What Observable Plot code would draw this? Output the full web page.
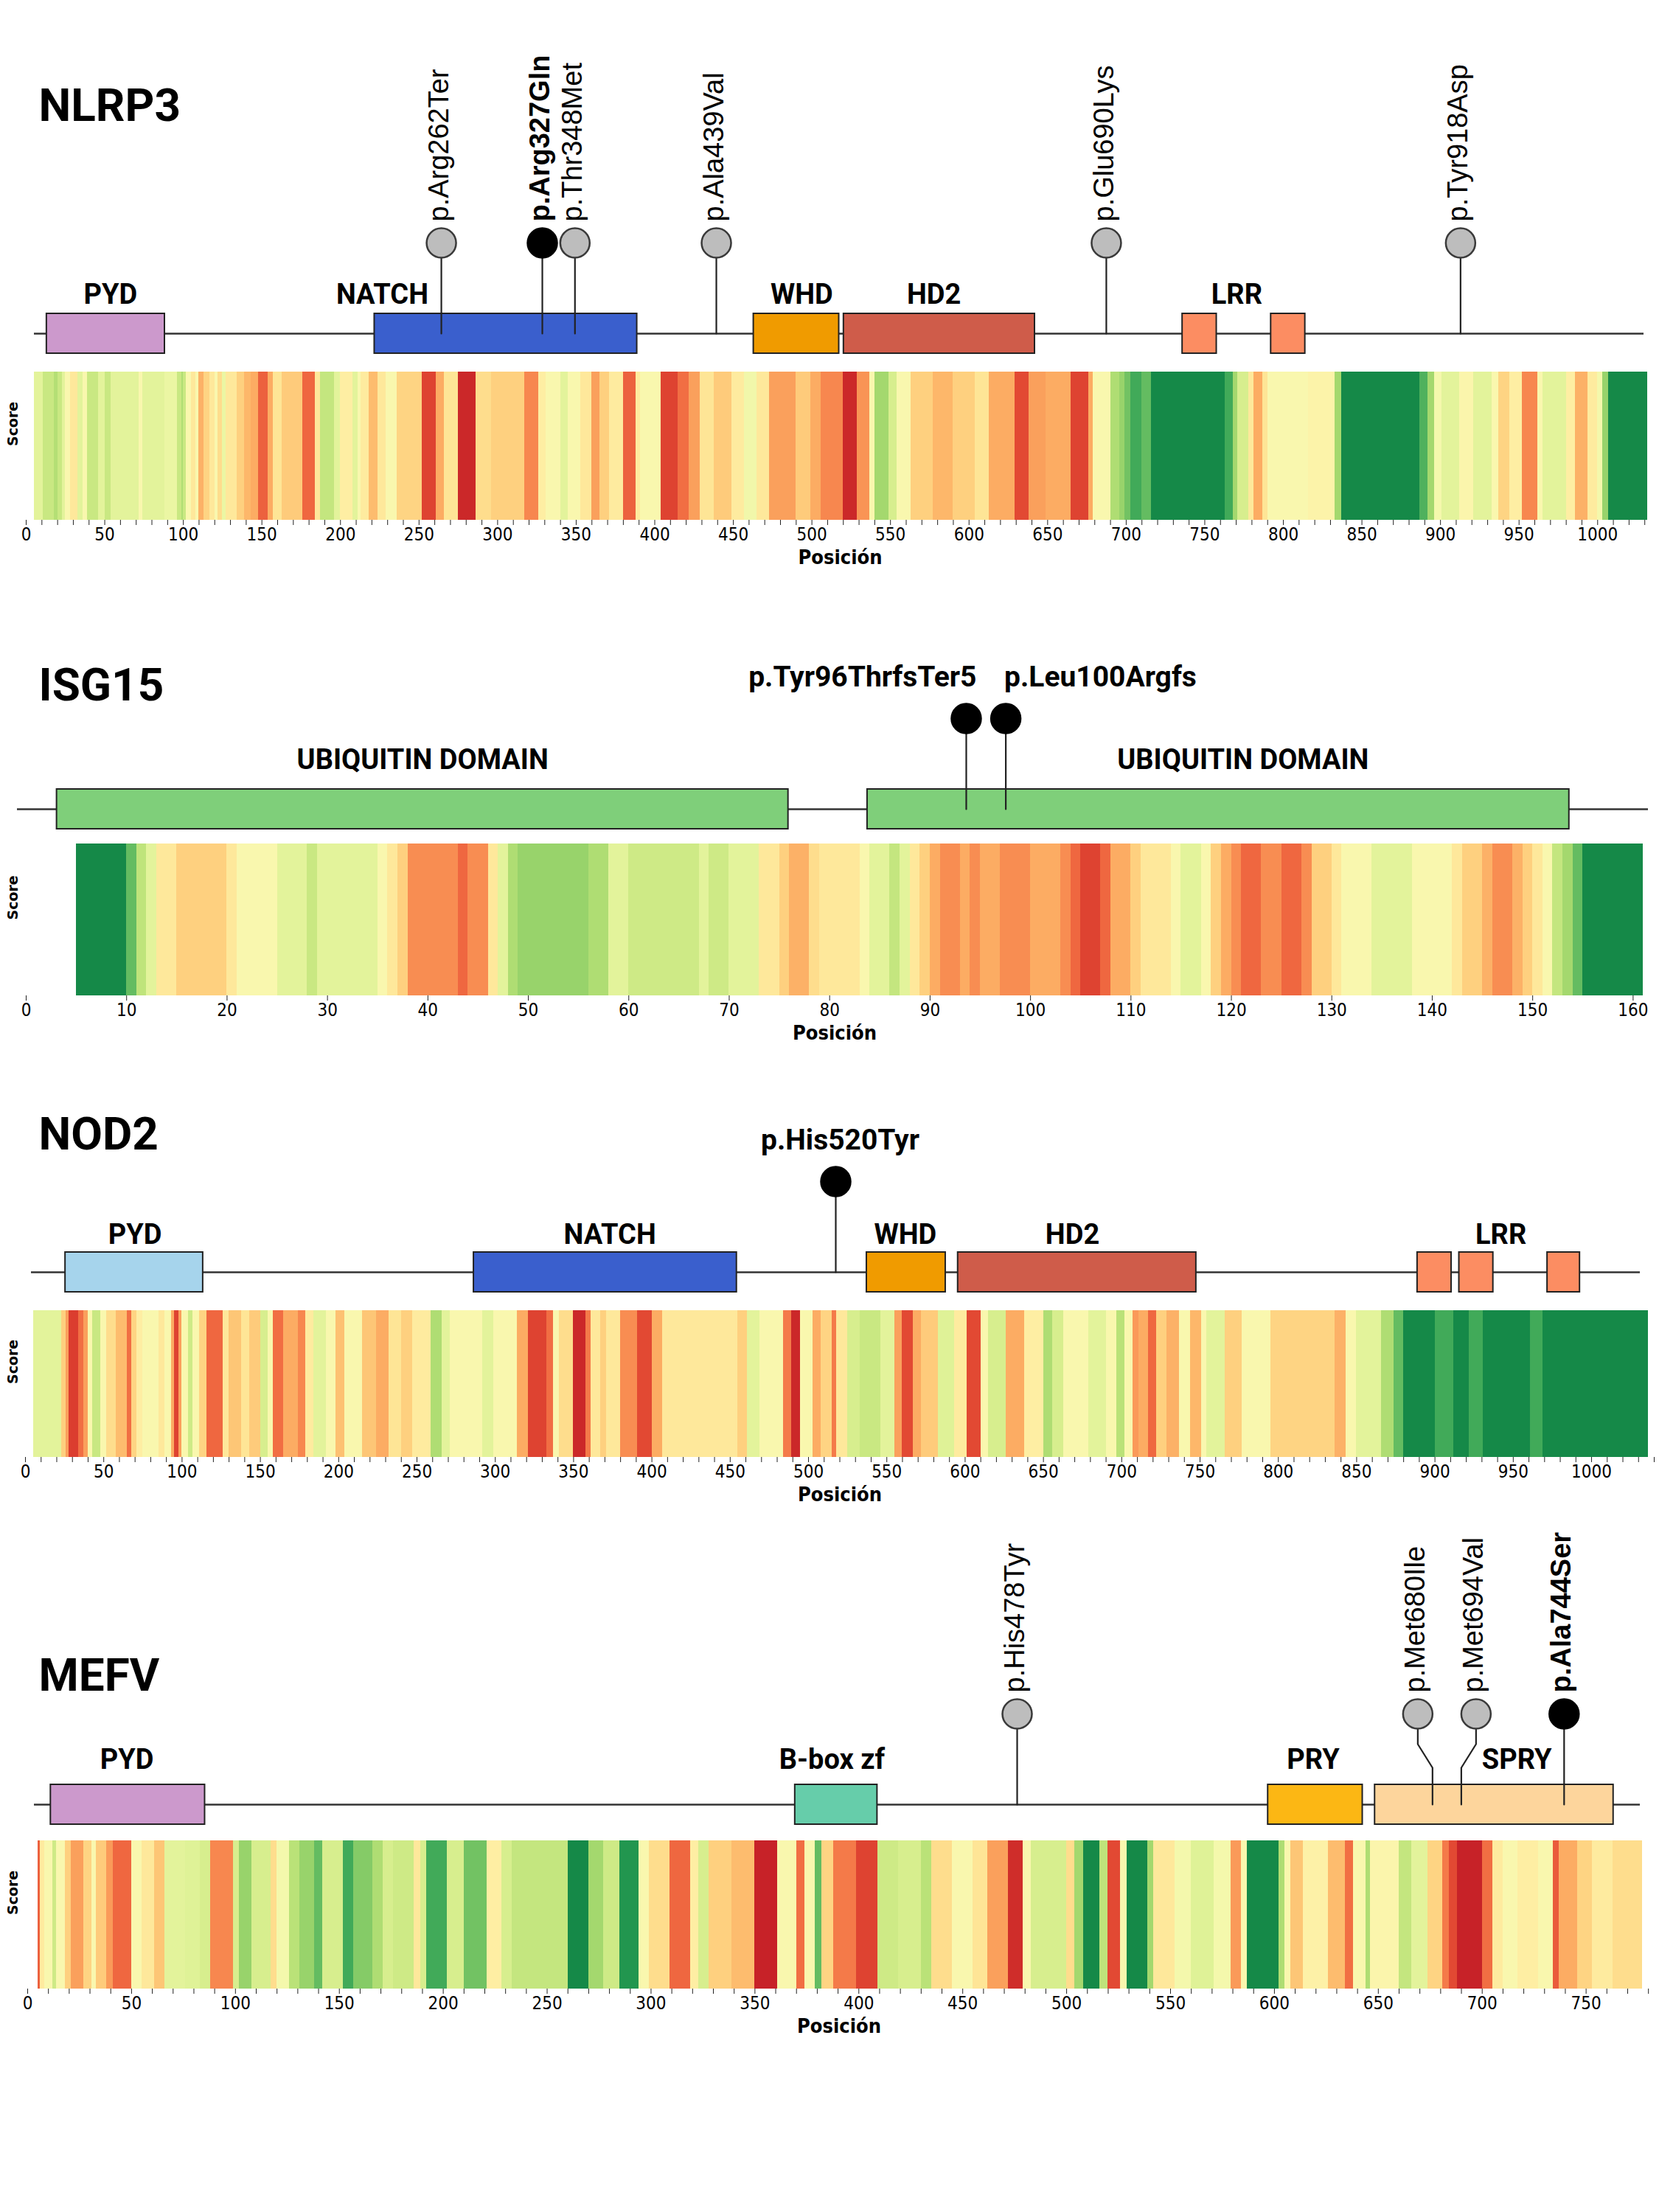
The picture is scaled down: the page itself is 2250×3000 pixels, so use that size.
<!DOCTYPE html>
<html>
<head>
<meta charset="utf-8">
<script src="https://cdn.jsdelivr.net/npm/d3@7"></script>
<script src="https://cdn.jsdelivr.net/npm/@observablehq/plot@0.6"></script>
<style>
html, body { margin: 0; padding: 0; background: #fff; overflow: hidden; }
#root { position: relative; width: 2250px; height: 3000px; background: #fff; }
#root svg { position: absolute; left: 0; }
</style>
</head>
<body>
<div id="root"></div>
<script>
// ---------------- DATA ----------------
// NLRP3
const nlrp3Length = 1036;
const nlrp3DomainName = ["PYD", "NATCH", "WHD", "HD2", "LRR", "LRR"];
const nlrp3DomainStart = [8, 219, 463, 521, 739, 796];
const nlrp3DomainEnd = [84, 388, 518, 644, 761, 818];
const nlrp3LabelText = ["PYD", "NATCH", "WHD", "HD2", "LRR"];
const nlrp3LabelAt = [49, 224, 494, 579, 774];
const nlrp3MutPos = [262, 327, 348, 439, 690, 918];
const nlrp3MutName = ["p.Arg262Ter", "p.Arg327Gln", "p.Thr348Met", "p.Ala439Val", "p.Glu690Lys", "p.Tyr918Asp"];
const nlrp3MutKey = [false, true, false, false, false, false];
const nlrp3HeatStart = [5,11,18,20,23,25,28,33,36,39,46,50,54,72,74,88,96,99,100,102,105,108,110,113,117,120,122,125,127,134,139,143,148,154,157,163,176,184,187,196,200,208,211,213,218,224,229,236,252,261,266,275,286,296,317,326,331,340,345,353,360,365,371,380,388,391,404,415,422,429,438,449,457,465,473,490,499,506,520,529,537,540,549,554,563,577,590,604,613,629,638,649,665,676,679,690,696,699,703,710,716,763,768,771,778,781,787,790,816,833,837,887,892,896,901,912,921,933,937,944,952,962,965,980,986,994,1000,1003,1007];
const nlrp3HeatScore = [0.57,0.63,0.67,0.63,0.57,0.5,0.43,0.57,0.5,0.63,0.57,0.63,0.57,0.5,0.57,0.55,0.63,0.68,0.63,0.5,0.43,0.5,0.31,0.38,0.43,0.5,0.4,0.55,0.43,0.37,0.32,0.3,0.18,0.3,0.42,0.36,0.19,0.43,0.64,0.57,0.45,0.57,0.5,0.44,0.33,0.43,0.5,0.38,0.13,0.3,0.42,0.08,0.4,0.37,0.24,0.45,0.5,0.57,0.5,0.43,0.28,0.37,0.44,0.18,0.44,0.5,0.13,0.2,0.28,0.42,0.36,0.44,0.53,0.43,0.28,0.36,0.3,0.24,0.08,0.26,0.5,0.7,0.6,0.5,0.37,0.32,0.37,0.42,0.3,0.14,0.28,0.3,0.13,0.3,0.5,0.68,0.72,0.78,0.85,0.8,0.93,0.85,0.7,0.6,0.43,0.3,0.42,0.5,0.47,0.7,0.93,0.83,0.7,0.52,0.57,0.48,0.57,0.5,0.38,0.45,0.24,0.5,0.57,0.45,0.31,0.44,0.52,0.72,0.93];
const nlrp3HeatEnd = 1032;

// ISG15
const isg15Length = 165;
const isg15DomainName = ["UBIQUITIN DOMAIN", "UBIQUITIN DOMAIN"];
const isg15DomainStart = [4, 86];
const isg15DomainEnd = [78, 157];
const isg15LabelText = ["UBIQUITIN DOMAIN", "UBIQUITIN DOMAIN"];
const isg15LabelAt = [41, 124];
const isg15MutPos = [96, 100];
const isg15MutName = ["p.Tyr96ThrfsTer5", "p.Leu100Argfs"];
const isg15MutKey = [true, true];
const isg15HeatStart = [5,10,11,12,13,15,20,21,25,28,29,35,36,37,38,43,44,46,47,48,49,56,58,60,67,68,70,73,75,76,78,79,83,84,86,87,88,89,90,91,93,94,95,97,100,103,104,105,107,108,110,111,114,115,117,118,119,120,121,123,125,127,128,130,131,134,138,142,143,145,146,148,149,150,151,152,153,154,155];
const isg15HeatScore = [0.93,0.8,0.65,0.57,0.43,0.37,0.43,0.5,0.57,0.63,0.57,0.5,0.43,0.37,0.25,0.19,0.25,0.43,0.57,0.68,0.72,0.68,0.57,0.62,0.57,0.62,0.57,0.43,0.37,0.31,0.4,0.43,0.5,0.57,0.64,0.57,0.43,0.37,0.3,0.25,0.3,0.25,0.3,0.25,0.3,0.25,0.19,0.13,0.19,0.3,0.37,0.43,0.5,0.57,0.5,0.37,0.3,0.25,0.19,0.25,0.19,0.25,0.37,0.43,0.5,0.57,0.5,0.43,0.37,0.31,0.25,0.31,0.37,0.43,0.5,0.64,0.7,0.8,0.93];
const isg15HeatEnd = 161;

// NOD2
const nod2Length = 1040;
const nod2DomainName = ["PYD", "NATCH", "WHD", "HD2", "LRR", "LRR", "LRR"];
const nod2DomainStart = [22, 286, 540, 599, 896, 923, 980];
const nod2DomainEnd = [111, 456, 591, 753, 918, 945, 1001];
const nod2LabelText = ["PYD", "NATCH", "WHD", "HD2", "LRR"];
const nod2LabelAt = [67, 374, 565, 673, 950];
const nod2MutPos = [520];
const nod2MutName = ["p.His520Tyr"];
const nod2MutKey = [true];
const nod2HeatStart = [5,23,26,28,34,37,40,43,48,52,58,65,68,71,75,85,89,93,95,98,100,104,107,111,116,126,130,138,143,150,155,158,165,174,179,184,192,198,204,215,224,232,240,247,259,266,271,292,299,314,321,333,337,341,350,358,361,367,371,380,391,400,407,455,461,469,484,489,495,503,508,515,518,525,533,546,555,560,567,572,583,593,601,610,615,626,638,650,656,663,679,690,697,702,707,711,717,722,729,737,744,751,754,766,777,795,836,843,850,866,874,880,900,912,922,931,961,969];
const nod2HeatScore = [0.57,0.37,0.28,0.12,0.2,0.28,0.5,0.63,0.5,0.4,0.33,0.2,0.38,0.45,0.5,0.43,0.5,0.3,0.13,0.28,0.5,0.62,0.5,0.38,0.19,0.43,0.35,0.42,0.36,0.6,0.5,0.2,0.3,0.24,0.44,0.57,0.5,0.34,0.5,0.35,0.3,0.42,0.37,0.44,0.68,0.57,0.5,0.57,0.5,0.3,0.13,0.2,0.5,0.4,0.08,0.22,0.43,0.37,0.43,0.25,0.14,0.3,0.43,0.37,0.57,0.5,0.22,0.08,0.5,0.3,0.38,0.22,0.43,0.6,0.63,0.57,0.28,0.14,0.3,0.36,0.58,0.44,0.14,0.5,0.6,0.3,0.45,0.68,0.6,0.5,0.57,0.5,0.66,0.5,0.27,0.3,0.19,0.37,0.31,0.5,0.32,0.5,0.57,0.37,0.5,0.38,0.31,0.5,0.57,0.68,0.8,0.93,0.85,0.93,0.85,0.93,0.85,0.93];
const nod2HeatEnd = 1036;

// MEFV
const mefvLength = 781;
const mefvDomainName = ["PYD", "B-box zf", "PRY", "SPRY"];
const mefvDomainStart = [8, 370, 600, 652];
const mefvDomainEnd = [83, 410, 646, 768];
const mefvLabelText = ["PYD", "B-box zf", "PRY", "SPRY"];
const mefvLabelAt = [45, 388, 622, 721];
const mefvMutPos = [478, 680, 694, 744];
const mefvMutName = ["p.His478Tyr", "p.Met680Ile", "p.Met694Val", "p.Ala744Ser"];
const mefvMutKey = [false, false, false, true];
const mefvHeatStart = [5,6,8,12,14,18,21,27,31,33,38,41,50,55,61,66,76,83,88,99,102,108,117,120,126,131,138,142,152,157,166,171,176,186,189,192,202,210,221,228,233,260,270,277,285,294,299,309,319,323,328,339,350,361,370,374,379,382,388,399,409,419,430,435,445,455,462,472,479,483,500,504,508,516,520,526,529,539,542,552,560,571,579,584,587,602,605,608,614,626,634,638,644,646,660,666,674,681,684,688,700,705,710,717,727,734,737,746,753,763];
const mefvHeatScore = [0.18,0.44,0.5,0.62,0.5,0.37,0.28,0.38,0.5,0.36,0.27,0.19,0.5,0.43,0.35,0.57,0.58,0.6,0.24,0.6,0.72,0.6,0.4,0.52,0.66,0.72,0.8,0.6,0.85,0.75,0.68,0.6,0.62,0.43,0.6,0.85,0.6,0.78,0.45,0.6,0.64,0.93,0.7,0.62,0.9,0.5,0.4,0.19,0.45,0.6,0.37,0.33,0.07,0.5,0.2,0.5,0.8,0.38,0.22,0.13,0.62,0.6,0.66,0.4,0.5,0.42,0.28,0.09,0.5,0.6,0.4,0.7,0.93,0.65,0.14,0.5,0.93,0.7,0.43,0.52,0.58,0.52,0.27,0.5,0.93,0.68,0.5,0.35,0.46,0.33,0.2,0.5,0.68,0.48,0.64,0.57,0.38,0.22,0.14,0.07,0.2,0.44,0.5,0.45,0.5,0.17,0.3,0.38,0.44,0.4];
const mefvHeatEnd = 777;

// ---------------- STYLE ----------------
const domainColor = {
  "PYD": "#cc99cc", "NATCH": "#3a5fcd", "WHD": "#f09b00", "HD2": "#cf5c4a",
  "LRR": "#fc8d62", "UBIQUITIN DOMAIN": "#7fcf7a", "B-box zf": "#66cdaa",
  "PRY": "#fcb714", "SPRY": "#fdd59c"
};
const W = 2250;
const TITLE_FONT = "Roboto, 'Liberation Sans', sans-serif";
const MUT_FONT = "'Liberation Sans', Arial, sans-serif";
const AXIS_FONT = "'DejaVu Sans Condensed', 'DejaVu Sans', sans-serif";
const CIRCLE_Y = 123, BEND1 = 82, BEND2 = 50, BOX_HALF = 27, DOT_R = 20;

const panels = [
  {title: "NLRP3", len: nlrp3Length, domName: nlrp3DomainName, domStart: nlrp3DomainStart, domEnd: nlrp3DomainEnd,
   labText: nlrp3LabelText, labAt: nlrp3LabelAt, mutPos: nlrp3MutPos, mutName: nlrp3MutName, mutKey: nlrp3MutKey,
   heatStart: nlrp3HeatStart, heatScore: nlrp3HeatScore, heatEnd: nlrp3HeatEnd,
   backbone: 452, lineX0: 46, lineX1: 2229, up: 440, down: 45, titleUp: 308, labelUp: 53, mode: "rot",
   heatTop: 504, heatBottom: 705, ml: 35, mr: 7, labelStep: 50, colors: {}},
  {title: "ISG15", len: isg15Length, domName: isg15DomainName, domStart: isg15DomainStart, domEnd: isg15DomainEnd,
   labText: isg15LabelText, labAt: isg15LabelAt, mutPos: isg15MutPos, mutName: isg15MutName, mutKey: isg15MutKey,
   heatStart: isg15HeatStart, heatScore: isg15HeatScore, heatEnd: isg15HeatEnd,
   backbone: 1097, lineX0: 23, lineX1: 2235, up: 250, down: 45, titleUp: 167, labelUp: 67, mode: "hor",
   heatTop: 1144, heatBottom: 1350, ml: 35, mr: 22, axisMax: 161, labelStep: 10, colors: {}},
  {title: "NOD2", len: nod2Length, domName: nod2DomainName, domStart: nod2DomainStart, domEnd: nod2DomainEnd,
   labText: nod2LabelText, labAt: nod2LabelAt, mutPos: nod2MutPos, mutName: nod2MutName, mutKey: nod2MutKey,
   heatStart: nod2HeatStart, heatScore: nod2HeatScore, heatEnd: nod2HeatEnd,
   backbone: 1725, lineX0: 42, lineX1: 2224, up: 260, down: 45, titleUp: 186, labelUp: 51, mode: "hor",
   heatTop: 1777, heatBottom: 1976, ml: 34, mr: 7, labelStep: 50, colors: {"PYD": "#a6d4ec"}},
  {title: "MEFV", len: mefvLength, domName: mefvDomainName, domStart: mefvDomainStart, domEnd: mefvDomainEnd,
   labText: mefvLabelText, labAt: mefvLabelAt, mutPos: mefvMutPos, mutName: mefvMutName, mutKey: mefvMutKey,
   heatStart: mefvHeatStart, heatScore: mefvHeatScore, heatEnd: mefvHeatEnd,
   backbone: 2447, lineX0: 46, lineX1: 2224, up: 400, down: 45, titleUp: 174, labelUp: 61, mode: "rot",
   heatTop: 2496, heatBottom: 2697, ml: 37, mr: 12, labelStep: 50, colors: {}}
];

const root = document.getElementById("root");
const baseStyle = {background: "transparent", overflow: "visible", fontFamily: AXIS_FONT, fontSize: "24px", color: "#000"};

function diagram(p) {
  const pxPerRes = (p.lineX1 - p.lineX0) / p.len;
  const boxes = p.domStart.map((s, i) => ({x1: s, x2: p.domEnd[i], name: p.domName[i]}));
  const labels = p.labText.map((t, i) => ({x: p.labAt[i], text: t}));
  const muts = p.mutPos.map((m, i) => ({id: i, pos: m, head: m, name: p.mutName[i], key: p.mutKey[i]}));
  if (p.mode === "rot") {
    for (let i = 0; i < muts.length - 1; i++) {
      const gap = (muts[i + 1].pos - muts[i].pos) * pxPerRes;
      if (gap < 42) {
        const mid = (muts[i].pos + muts[i + 1].pos) / 2, half = 39.5 / pxPerRes;
        muts[i].head = mid - half; muts[i + 1].head = mid + half;
      }
    }
  } else {
    muts.forEach((m, i) => {
      const prev = muts[i - 1], next = muts[i + 1];
      if (next && (next.pos - m.pos) * pxPerRes < 120) m.anchor = "end";
      else if (prev && (m.pos - prev.pos) * pxPerRes < 120) m.anchor = "start";
      else m.anchor = "middle";
    });
  }
  const stems = muts.flatMap(m => m.head === m.pos
    ? [{id: m.id, x: m.pos, y: CIRCLE_Y}, {id: m.id, x: m.pos, y: 0}]
    : [{id: m.id, x: m.head, y: CIRCLE_Y}, {id: m.id, x: m.head, y: BEND1}, {id: m.id, x: m.pos, y: BEND2}, {id: m.id, x: m.pos, y: 0}]);
  const colorOf = name => p.colors[name] || domainColor[name];
  const labelY = p.mode === "rot" ? CIRCLE_Y + 29 : CIRCLE_Y + 56;
  const marks = [
    Plot.text([p.title], {frameAnchor: "left", y: p.titleUp, dx: 52 - p.lineX0, textAnchor: "start",
      fontSize: 62, fontWeight: "bold", fontFamily: TITLE_FONT, fill: "#000"}),
    Plot.ruleY([0], {x1: 0, x2: p.len, stroke: "#333", strokeWidth: 2.5}),
    Plot.rect(boxes, {x1: "x1", x2: "x2", y1: -BOX_HALF, y2: BOX_HALF, fill: d => colorOf(d.name), stroke: "#222", strokeWidth: 2}),
    Plot.text(labels, {x: "x", y: p.labelUp, text: "text", fontSize: 38, fontWeight: "bold", fontFamily: TITLE_FONT, fill: "#000"}),
    Plot.line(stems, {x: "x", y: "y", z: "id", stroke: "#222", strokeWidth: 2.2, curve: "linear"}),
    Plot.dot(muts.filter(m => !m.key), {x: "head", y: CIRCLE_Y, r: DOT_R, fill: "#bdbdbd", stroke: "#3a3a3a", strokeWidth: 2.5}),
    Plot.dot(muts.filter(m => m.key), {x: "head", y: CIRCLE_Y, r: DOT_R, fill: "#000", stroke: "#000", strokeWidth: 2.5})
  ];
  if (p.mode === "rot") {
    marks.push(
      Plot.text(muts.filter(m => !m.key), {x: "head", y: labelY, text: "name", rotate: -90, textAnchor: "start",
        fontSize: 38, fontFamily: MUT_FONT, fill: "#000", dx: -3}),
      Plot.text(muts.filter(m => m.key), {x: "head", y: labelY, text: "name", rotate: -90, textAnchor: "start",
        fontSize: 38, fontWeight: "bold", fontFamily: MUT_FONT, fill: "#000", dx: -3})
    );
  } else {
    const offs = {end: 14, start: -2, middle: 6};
    for (const a of ["end", "start", "middle"]) {
      marks.push(Plot.text(muts.filter(m => m.anchor === a), {x: "head", y: labelY, text: "name", textAnchor: a, dx: offs[a],
        fontSize: 39, fontWeight: "bold", fontFamily: TITLE_FONT, fill: "#000"}));
    }
  }
  const svg = Plot.plot({
    width: W, height: p.up + p.down,
    marginTop: 0, marginBottom: 0, marginLeft: p.lineX0, marginRight: W - p.lineX1,
    x: {domain: [0, p.len], axis: null},
    y: {domain: [-p.down, p.up], axis: null},
    color: {type: "identity"},
    style: baseStyle,
    marks
  });
  svg.style.top = (p.backbone - p.up) + "px";
  root.appendChild(svg);
}

function heat(p) {
  const segs = p.heatStart.map((s, i) => ({x1: s, x2: i + 1 < p.heatStart.length ? p.heatStart[i + 1] : p.heatEnd, score: p.heatScore[i]}));
  const hh = p.heatBottom - p.heatTop;
  const axisMax = p.axisMax || p.len;
  const step = p.labelStep;
  const svg = Plot.plot({
    width: W, height: hh + 90,
    marginTop: 0, marginBottom: 90, marginLeft: p.ml, marginRight: p.mr,
    x: {domain: [0, axisMax]},
    y: {domain: [0, 1], axis: null},
    color: {type: "linear", scheme: "RdYlGn", domain: [0, 1]},
    style: baseStyle,
    marks: [
      Plot.rect(segs, {x1: "x1", x2: "x2", y1: 0, y2: 1, fill: "score", shapeRendering: "crispEdges"}),
      Plot.axisX({ticks: d3.range(0, axisMax + 1, 10), tickFormat: d => d % step === 0 ? String(d) : "",
        tickSize: 7, tickPadding: 3, fontSize: 24, fontFamily: AXIS_FONT, stroke: "#222", fill: "#000", label: null}),
      Plot.text(["Score"], {frameAnchor: "left", dx: -(p.ml - 17), rotate: -90, fontSize: 19, fontWeight: "bold",
        fontFamily: "'DejaVu Sans', sans-serif", fill: "#000"}),
      Plot.text(["Posición"], {frameAnchor: "bottom", dy: 59, fontSize: 27, fontWeight: "bold", fontFamily: AXIS_FONT, fill: "#000"})
    ]
  });
  svg.style.top = p.heatTop + "px";
  root.appendChild(svg);
}

for (const p of panels) { heat(p); }
for (const p of panels) { diagram(p); }
</script>
</body>
</html>
